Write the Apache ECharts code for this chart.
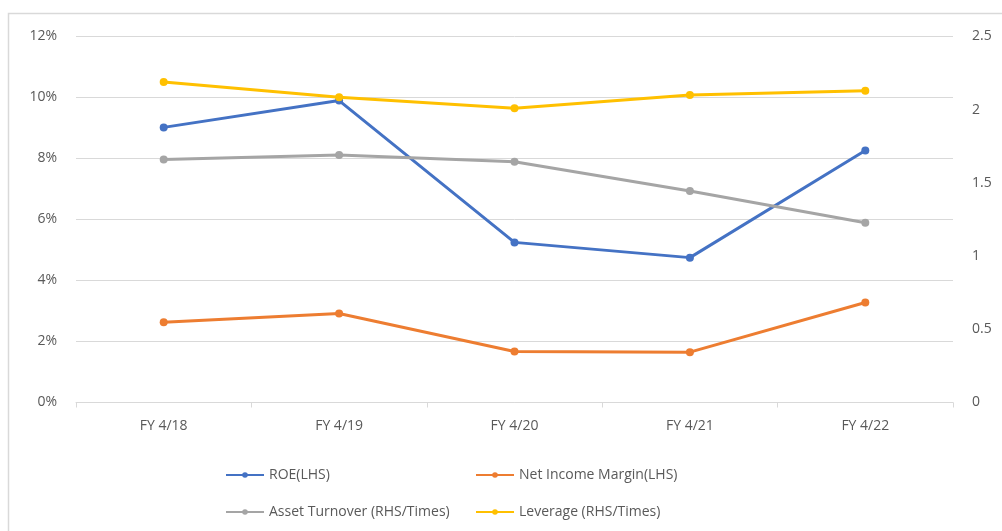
<!DOCTYPE html>
<html>
<head>
<meta charset="utf-8">
<script src="https://cdn.jsdelivr.net/npm/echarts@6/dist/echarts.min.js"></script>
<style>
  html, body { margin: 0; padding: 0; background: #fff; }
  #chart { width: 1002px; height: 531px; }
</style>
</head>
<body>
<div id="chart"></div>
<script>
// Fiscal years on the category axis
const categories = ['FY 4/18', 'FY 4/19', 'FY 4/20', 'FY 4/21', 'FY 4/22'];

// Left-hand axis series (percent)
const roe = [9.02, 9.9, 5.25, 4.75, 8.26];
const netIncomeMargin = [2.63, 2.92, 1.67, 1.65, 3.28];

// Right-hand axis series (times)
const assetTurnover = [1.66, 1.69, 1.645, 1.445, 1.228];
const leverage = [2.19, 2.085, 2.01, 2.10, 2.13];

const seriesNames = ['ROE(LHS)', 'Net Income Margin(LHS)', 'Asset Turnover (RHS/Times)', 'Leverage (RHS/Times)'];
const colors = ['#4472C4', '#ED7D31', '#A5A5A5', '#FFC000'];

const textColor = '#595959';
const gridColor = '#d9d9d9';
const fontFamily = '"Open Sans", Lato, sans-serif';

function lineSeries(name, data, yAxisIndex, color) {
  return {
    name: name,
    type: 'line',
    data: data,
    yAxisIndex: yAxisIndex,
    symbol: 'circle',
    symbolSize: 8,
    lineStyle: { width: 3, color: color },
    itemStyle: { color: color },
    emphasis: { disabled: true }
  };
}

const legendCommon = {
  orient: 'vertical',
  padding: 0,
  itemWidth: 38,
  itemHeight: 7,
  itemGap: 23,
  textStyle: { color: textColor, fontSize: 14, fontFamily: fontFamily },
  selectedMode: false
};

const chart = echarts.init(document.getElementById('chart'), null, { renderer: 'canvas' });
chart.setOption({
  animation: false,
  color: colors,
  graphic: [{
    type: 'rect',
    shape: { x: 8.5, y: 13.5, width: 1100, height: 600 },
    style: { fill: 'none', stroke: gridColor, lineWidth: 1.5 },
    silent: true
  }],
  grid: { left: 76, right: 49, top: 36.5, bottom: 128.5, containLabel: false },
  legend: [
    Object.assign({ left: 225, top: 468, data: [seriesNames[0], seriesNames[2]] }, legendCommon),
    Object.assign({ left: 475, top: 468, data: [seriesNames[1], seriesNames[3]] }, legendCommon)
  ],
  xAxis: {
    type: 'category',
    data: categories,
    boundaryGap: true,
    axisLine: { lineStyle: { color: gridColor, width: 1 } },
    axisTick: { show: true, length: 5, lineStyle: { color: gridColor } },
    axisLabel: { color: textColor, fontSize: 14, fontFamily: fontFamily, margin: 17 }
  },
  yAxis: [
    {
      type: 'value',
      min: 0, max: 12, interval: 2,
      axisLine: { show: false },
      axisTick: { show: false },
      splitLine: { lineStyle: { color: gridColor, width: 1 } },
      axisLabel: { formatter: '{value}%', color: textColor, fontSize: 14, fontFamily: fontFamily, margin: 19 }
    },
    {
      type: 'value',
      min: 0, max: 2.5, interval: 0.5,
      axisLine: { show: false },
      axisTick: { show: false },
      splitLine: { show: false },
      axisLabel: { color: textColor, fontSize: 14, fontFamily: fontFamily, margin: 19 }
    }
  ],
  series: [
    lineSeries(seriesNames[0], roe, 0, colors[0]),
    lineSeries(seriesNames[1], netIncomeMargin, 0, colors[1]),
    lineSeries(seriesNames[2], assetTurnover, 1, colors[2]),
    lineSeries(seriesNames[3], leverage, 1, colors[3])
  ]
});
</script>
</body>
</html>
